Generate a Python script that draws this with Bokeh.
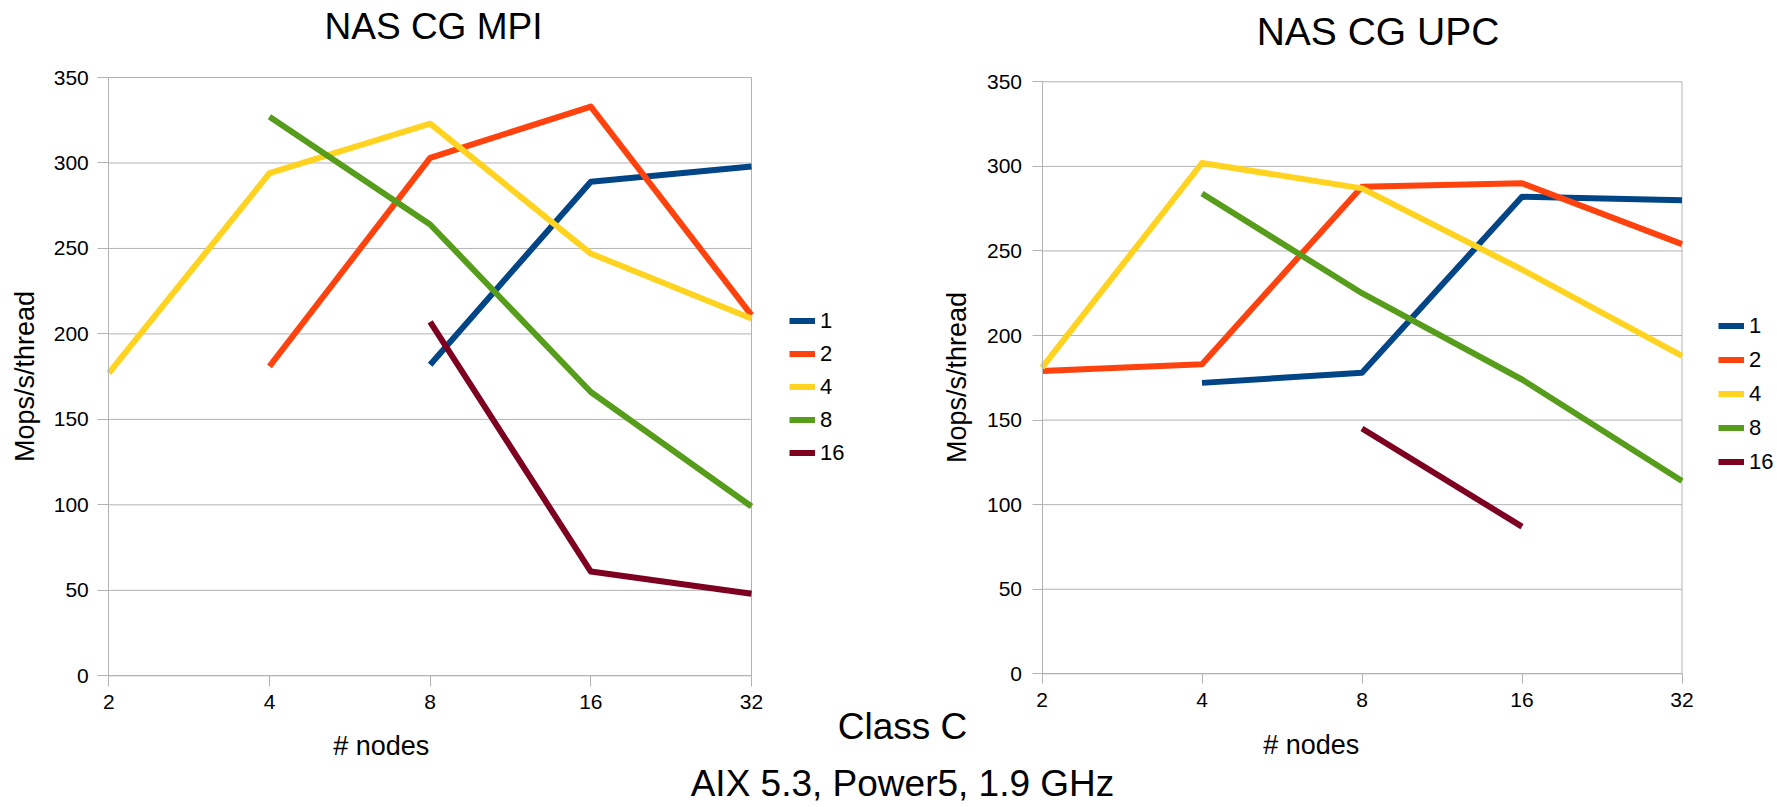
import math
import numpy as np
from bokeh.plotting import figure
from bokeh.models import (Range1d, FixedTicker, NumeralTickFormatter, Legend,
                          LegendItem, Label, ColumnDataSource, LogScale,
                          LinearAxis, LogAxis)
from bokeh.embed import file_html
from bokeh.resources import INLINE

nan = float("nan")

# ---------------- data ----------------
nodes = [2, 4, 8, 16, 32]
thread_labels = ["1", "2", "4", "8", "16"]
y_ticks = [0, 50, 100, 150, 200, 250, 300, 350]

mpi_1 = [nan, nan, 182, 289, 298]
mpi_2 = [nan, 181, 303, 333, 211]
mpi_4 = [177, 294, 323, 247, 209]
mpi_8 = [nan, 327, 264, 166, 99]
mpi_16 = [nan, nan, 207, 61, 48]

upc_1 = [nan, 172, 178, 282, 280]
upc_2 = [179, 183, 288, 290, 254]
upc_4 = [181, 302, 287, 239, 188]
upc_8 = [nan, 284, 225, 174, 114]
upc_16 = [nan, nan, 145, 87, nan]

colors = ["#004586", "#ff420e", "#ffd320", "#579d1c", "#7e0021"]
FONT = "Liberation Sans"
GRID = "#b3b3b3"

W, H = 1777, 807

p = figure(width=W, height=H, x_range=Range1d(0, W), y_range=Range1d(H, 0),
           title=None, x_axis_location=None, y_axis_location=None,
           output_backend="svg", toolbar_location=None,
           min_border=0, min_border_left=0, min_border_right=0,
           min_border_top=0, min_border_bottom=0)
p.grid.visible = False
p.outline_line_color = None
p.background_fill_color = "white"
p.border_fill_color = "white"


def text(x, y, s, size):
    p.add_layout(Label(x=x, y=y, text=s, text_font=FONT, text_font_size=size,
                       text_align="center", text_baseline="middle",
                       text_color="black"))


def add_chart(key, title, series, fl, fr, ft, fb, tick_out, ylab_standoff,
              y_standoff, x_standoff, title_pos, title_size, xlab_pos,
              legend_pos, legend_spacing):
    xn, yn = "x" + key, "y" + key
    lx0, lx1 = math.log2(nodes[0]), math.log2(nodes[-1])
    ppu = (fr - fl) / (lx1 - lx0)
    p.extra_x_ranges[xn] = Range1d(2 ** (lx0 - fl / ppu),
                                   2 ** (lx1 + (W - fr) / ppu))
    p.extra_x_scales[xn] = LogScale()
    ky = (fb - ft) / (y_ticks[-1] - y_ticks[0])
    p.extra_y_ranges[yn] = Range1d(y_ticks[0] - (H - fb) / ky,
                                   y_ticks[-1] + ft / ky)

    # horizontal grid lines and right frame edge
    p.segment(x0=[nodes[0]] * len(y_ticks), x1=[nodes[-1]] * len(y_ticks),
              y0=y_ticks, y1=y_ticks, x_range_name=xn, y_range_name=yn,
              line_color=GRID, line_width=1)
    p.segment(x0=[nodes[-1]], x1=[nodes[-1]], y0=[y_ticks[0]],
              y1=[y_ticks[-1]], x_range_name=xn, y_range_name=yn,
              line_color=GRID, line_width=1)

    data = {"x": np.array(nodes, dtype=float)}
    for i, s in enumerate(series):
        data["s%d" % i] = np.array(s, dtype=float)
    src = ColumnDataSource(data)
    items = []
    for i, lab in enumerate(thread_labels):
        r = p.line("x", "s%d" % i, source=src, x_range_name=xn,
                   y_range_name=yn, line_color=colors[i], line_width=6,
                   line_join="round")
        items.append(LegendItem(label=lab, renderers=[r]))

    yax = LinearAxis(x_range_name=xn, y_range_name=yn,
                     fixed_location=nodes[0],
                     bounds=(y_ticks[0], y_ticks[-1]),
                     ticker=FixedTicker(ticks=y_ticks, minor_ticks=[]),
                     axis_label="Mops/s/thread",
                     axis_label_text_font=FONT,
                     axis_label_text_font_size="27px",
                     axis_label_text_font_style="normal",
                     axis_label_text_color="black",
                     axis_label_standoff=ylab_standoff,
                     major_label_standoff=y_standoff)
    xax = LogAxis(x_range_name=xn, y_range_name=yn,
                  fixed_location=y_ticks[0],
                  bounds=(nodes[0], nodes[-1]),
                  ticker=FixedTicker(ticks=nodes, minor_ticks=[]),
                  formatter=NumeralTickFormatter(format="0"),
                  major_label_standoff=x_standoff)
    for ax in (yax, xax):
        ax.axis_line_color = GRID
        ax.major_tick_line_color = GRID
        ax.major_tick_in = 0
        ax.major_tick_out = tick_out
        ax.minor_tick_line_color = None
        ax.major_label_text_font = FONT
        ax.major_label_text_font_size = "21px"
        ax.major_label_text_color = "black"
    p.add_layout(yax, "left")
    p.add_layout(xax, "below")

    legend = Legend(items=items, location=legend_pos, orientation="vertical",
                    glyph_width=26, glyph_height=25, label_height=25,
                    label_standoff=5, spacing=legend_spacing, padding=0,
                    margin=0, border_line_alpha=0, background_fill_alpha=0,
                    label_text_font=FONT, label_text_font_size="22px",
                    label_text_color="black")
    p.add_layout(legend)

    text(title_pos[0], title_pos[1], title, title_size)
    text(xlab_pos[0], xlab_pos[1], "# nodes", "27px")


# legend location: (left x, distance from canvas bottom to legend bottom)
add_chart("l", "NAS CG MPI", [mpi_1, mpi_2, mpi_4, mpi_8, mpi_16],
          fl=108.3, fr=751, ft=77, fb=675.3, tick_out=11, ylab_standoff=10,
          y_standoff=9, x_standoff=8, title_pos=(433, 25.8),
          title_size="37px", xlab_pos=(380.7, 745),
          legend_pos=(789, H - 465.5), legend_spacing=7)
add_chart("r", "NAS CG UPC", [upc_1, upc_2, upc_4, upc_8, upc_16],
          fl=1041.5, fr=1681.5, ft=81.3, fb=673.3, tick_out=10,
          ylab_standoff=12, y_standoff=10, x_standoff=9,
          title_pos=(1377.5, 30.8), title_size="39px",
          xlab_pos=(1310.7, 744), legend_pos=(1718, H - 474.5),
          legend_spacing=8)

text(902, 726, "Class C", "37px")
text(902, 783, "AIX 5.3, Power5, 1.9 GHz", "37px")

open("out.html", "w").write(file_html(p, INLINE))
